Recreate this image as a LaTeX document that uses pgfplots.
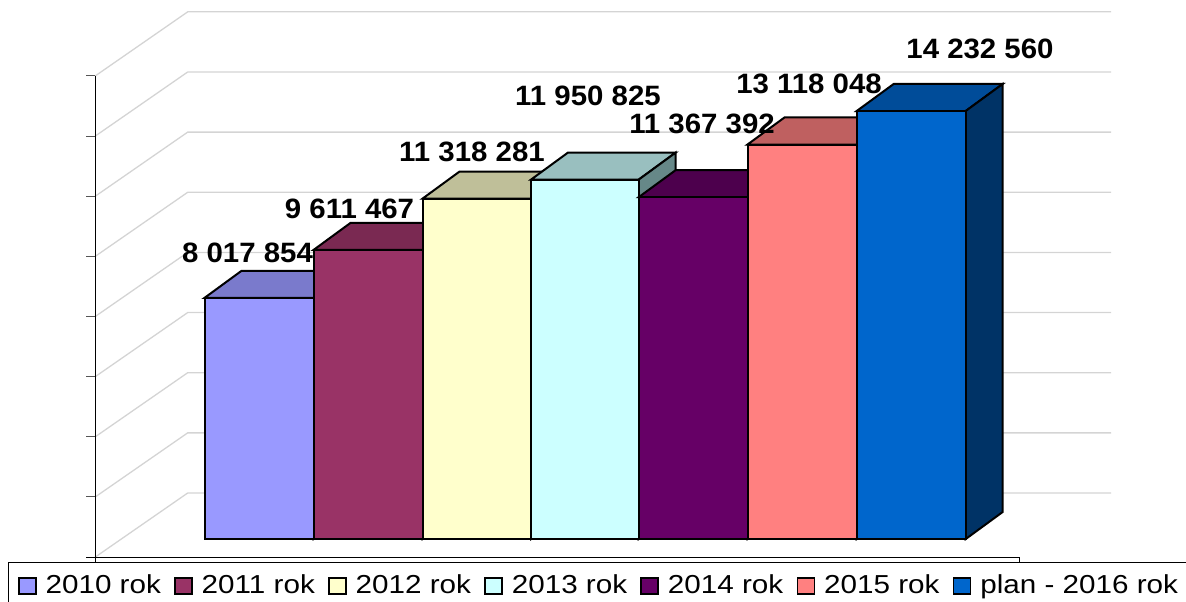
\documentclass[border=0pt]{standalone}
\usepackage{fontspec}
\usepackage{pgfplots}
\pgfplotsset{compat=1.18}
\setmainfont{Liberation Sans}
\newfontfamily\legfont[FakeStretch=1.14]{Liberation Sans}
\newfontfamily\lblfont[FakeStretch=1.05]{Liberation Sans Bold}
\definecolor{gridc}{HTML}{D4D4D4}
\definecolor{tickc}{HTML}{555555}
\begin{document}
\begin{tikzpicture}
\useasboundingbox (0,0) rectangle (593pt,300.5pt);
\begin{axis}[
  at={(0,0)}, anchor=south west,
  scale only axis, width=593pt, height=300.5pt,
  xmin=0, xmax=1186, ymin=-2061723, ymax=17923690,
  hide axis, clip=true,
  legend style={at={(axis cs:18,-1563000)}, anchor=west, draw=none, fill=none, inner sep=0pt, outer sep=0pt,
    font=\legfont\fontsize{13pt}{14pt}\selectfont,
    /tikz/every even column/.append style={column sep=2.6pt},
    nodes={inner xsep=4pt, inner ysep=0pt}},
  legend columns=7, legend cell align=left,
  legend image code/.code={\draw[line width=0.8pt,#1] (0pt,-4pt) rectangle (8.5pt,4pt);},
]
% walls: gridlines
\addplot[forget plot, draw=gridc, line width=0.65pt] coordinates {(95.3,-600000)(187.7,1530000)(1111,1530000)};
\addplot[forget plot, draw=gridc, line width=0.65pt] coordinates {(95.3,1400000)(187.7,3530000)(1111,3530000)};
\addplot[forget plot, draw=gridc, line width=0.65pt] coordinates {(95.3,3400000)(187.7,5530000)(1111,5530000)};
\addplot[forget plot, draw=gridc, line width=0.65pt] coordinates {(95.3,5400000)(187.7,7530000)(1111,7530000)};
\addplot[forget plot, draw=gridc, line width=0.65pt] coordinates {(95.3,7400000)(187.7,9530000)(1111,9530000)};
\addplot[forget plot, draw=gridc, line width=0.65pt] coordinates {(95.3,9400000)(187.7,11530000)(1111,11530000)};
\addplot[forget plot, draw=gridc, line width=0.65pt] coordinates {(95.3,11400000)(187.7,13530000)(1111,13530000)};
\addplot[forget plot, draw=gridc, line width=0.65pt] coordinates {(95.3,13400000)(187.7,15530000)(1111,15530000)};
\addplot[forget plot, draw=gridc, line width=0.65pt] coordinates {(95.3,15400000)(187.7,17530000)(1111,17530000)};
% axis lines and ticks
\addplot[forget plot, draw=black, line width=0.5pt] coordinates {(95.3,15400000)(95.3,-765000)};
\addplot[forget plot, draw=black, line width=0.5pt] coordinates {(86,-600000)(1019,-600000)(1019,-765000)};
\addplot[forget plot, draw=tickc, line width=0.5pt] coordinates {(86,1400000)(95.3,1400000)};
\addplot[forget plot, draw=tickc, line width=0.5pt] coordinates {(86,3400000)(95.3,3400000)};
\addplot[forget plot, draw=tickc, line width=0.5pt] coordinates {(86,5400000)(95.3,5400000)};
\addplot[forget plot, draw=tickc, line width=0.5pt] coordinates {(86,7400000)(95.3,7400000)};
\addplot[forget plot, draw=tickc, line width=0.5pt] coordinates {(86,9400000)(95.3,9400000)};
\addplot[forget plot, draw=tickc, line width=0.5pt] coordinates {(86,11400000)(95.3,11400000)};
\addplot[forget plot, draw=tickc, line width=0.5pt] coordinates {(86,13400000)(95.3,13400000)};
\addplot[forget plot, draw=tickc, line width=0.5pt] coordinates {(86,15400000)(95.3,15400000)};
% legend frame
\addplot[forget plot, draw=black, line width=0.5pt] coordinates {(8.3,-2100000)(8.3,-765000)(1186,-765000)};
% bars: top, side, front
\tikzset{bar/.style={draw=black, line width=1pt, line join=miter}}
\addplot[forget plot, bar, fill={rgb,255:red,122;green,122;blue,204}] coordinates {(204.5,8017854)(241.5,8917854)(350.5,8917854)(313.5,8017854)} --cycle;
\addplot[forget plot, bar, fill={rgb,255:red,77;green,77;blue,128}] coordinates {(313.5,0)(350.5,900000)(350.5,8917854)(313.5,8017854)} --cycle;
\addplot[bar, fill={rgb,255:red,153;green,153;blue,255}] coordinates {(204.5,0)(313.5,0)(313.5,8017854)(204.5,8017854)} --cycle;
\addlegendentry{\hspace{0.5pt}2010 rok}
\addplot[forget plot, bar, fill={rgb,255:red,122;green,41;blue,82}] coordinates {(313.5,9611467)(350.5,10511467)(459.5,10511467)(422.5,9611467)} --cycle;
\addplot[forget plot, bar, fill={rgb,255:red,77;green,26;blue,51}] coordinates {(422.5,0)(459.5,900000)(459.5,10511467)(422.5,9611467)} --cycle;
\addplot[bar, fill={rgb,255:red,153;green,51;blue,102}] coordinates {(313.5,0)(422.5,0)(422.5,9611467)(313.5,9611467)} --cycle;
\addlegendentry{\hspace{0.5pt}2011 rok}
\addplot[forget plot, bar, fill={rgb,255:red,191;green,191;blue,153}] coordinates {(422.5,11318281)(459.5,12218281)(568,12218281)(531,11318281)} --cycle;
\addplot[forget plot, bar, fill={rgb,255:red,128;green,128;blue,102}] coordinates {(531,0)(568,900000)(568,12218281)(531,11318281)} --cycle;
\addplot[bar, fill={rgb,255:red,255;green,255;blue,204}] coordinates {(422.5,0)(531,0)(531,11318281)(422.5,11318281)} --cycle;
\addlegendentry{\hspace{0.5pt}2012 rok}
\addplot[forget plot, bar, fill={rgb,255:red,153;green,191;blue,191}] coordinates {(531,11950825)(568,12850825)(675.7,12850825)(638.7,11950825)} --cycle;
\addplot[forget plot, bar, fill={rgb,255:red,102;green,136;blue,136}] coordinates {(638.7,0)(675.7,900000)(675.7,12850825)(638.7,11950825)} --cycle;
\addplot[bar, fill={rgb,255:red,204;green,255;blue,255}] coordinates {(531,0)(638.7,0)(638.7,11950825)(531,11950825)} --cycle;
\addlegendentry{\hspace{0.5pt}2013 rok}
\addplot[forget plot, bar, fill={rgb,255:red,77;green,0;blue,77}] coordinates {(638.7,11367392)(675.7,12267392)(784.5,12267392)(747.5,11367392)} --cycle;
\addplot[forget plot, bar, fill={rgb,255:red,51;green,0;blue,51}] coordinates {(747.5,0)(784.5,900000)(784.5,12267392)(747.5,11367392)} --cycle;
\addplot[bar, fill={rgb,255:red,102;green,0;blue,102}] coordinates {(638.7,0)(747.5,0)(747.5,11367392)(638.7,11367392)} --cycle;
\addlegendentry{\hspace{0.5pt}2014 rok}
\addplot[forget plot, bar, fill={rgb,255:red,191;green,96;blue,96}] coordinates {(747.5,13118048)(784.5,14018048)(893.7,14018048)(856.7,13118048)} --cycle;
\addplot[forget plot, bar, fill={rgb,255:red,128;green,64;blue,64}] coordinates {(856.7,0)(893.7,900000)(893.7,14018048)(856.7,13118048)} --cycle;
\addplot[bar, fill={rgb,255:red,255;green,128;blue,128}] coordinates {(747.5,0)(856.7,0)(856.7,13118048)(747.5,13118048)} --cycle;
\addlegendentry{\hspace{0.5pt}2015 rok}
\addplot[forget plot, bar, fill={rgb,255:red,0;green,76;blue,153}] coordinates {(856.7,14232560)(893.7,15132560)(1002.7,15132560)(965.7,14232560)} --cycle;
\addplot[forget plot, bar, fill={rgb,255:red,0;green,51;blue,102}] coordinates {(965.7,0)(1002.7,900000)(1002.7,15132560)(965.7,14232560)} --cycle;
\addplot[bar, fill={rgb,255:red,0;green,102;blue,204}] coordinates {(856.7,0)(965.7,0)(965.7,14232560)(856.7,14232560)} --cycle;
\addlegendentry{\hspace{0.5pt}plan - 2016 rok}
% value labels
\addplot[forget plot, draw=none, mark=none, point meta=explicit symbolic,
  nodes near coords, nodes near coords align=center,
  every node near coord/.append style={anchor=center, inner sep=0pt, text=black, font=\lblfont\fontsize{14pt}{16pt}\selectfont}]
  coordinates {
  (247.5,9510600)[8 017 854]
  (349.5,10973800)[9 611 467]
  (472,12869300)[11 318 281]
  (588,14731500)[11 950 825]
  (702,13800400)[11 367 392]
  (809,15130600)[13 118 048]
  (980,16294400)[14 232 560]
  };
\end{axis}
\end{tikzpicture}
\end{document}
